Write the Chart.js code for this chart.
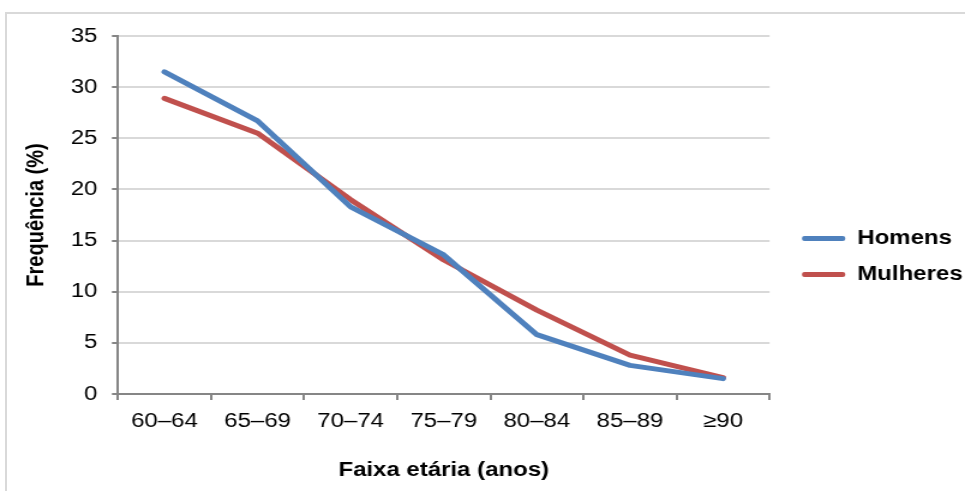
<!DOCTYPE html>
<html>
<head>
<meta charset="utf-8">
<script src="https://cdn.jsdelivr.net/npm/chart.js@4/dist/chart.umd.min.js"></script>
<style>
    html, body { margin: 0; padding: 0; background: #fff; overflow: hidden; }
    #frame {
        position: absolute; left: 5px; top: 12px; width: 980px; height: 500px;
        border-top: 2px solid #d9d9d9; border-left: 2px solid #d9d9d9;
    }
    #freqChart { position: absolute; left: 0; top: 0; }
</style>
</head>
<body>
<div id="frame"></div>
<!-- drawn at 804 wide and stretched to 965, like the original picture -->
<canvas id="freqChart" width="804" height="491" style="width:965px;height:491px"></canvas>
<script>
// age groups and frequency (%) per sex
const faixas = ['60–64', '65–69', '70–74', '75–79', '80–84', '85–89', '≥90'];
const homens = [31.5, 26.7, 18.3, 13.6, 5.8, 2.8, 1.5];
const mulheres = [28.9, 25.5, 19.0, 13.1, 8.2, 3.8, 1.6];
const yTicks = [0, 5, 10, 15, 20, 25, 30, 35];

const FONT = "'Liberation Sans', Arial, sans-serif";
const AXIS_GRAY = '#868686';
const GRID_GRAY = '#d9d9d9';

// nudge the legend box to where the original sits
const legendShift = {
    id: 'legendShift',
    afterLayout(chart) {
        const l = chart.legend;
        if (!l) return;
        const dx = 11, dy = -7;
        l.left += dx; l.right += dx;
        l.top += dy; l.bottom += dy;
    }
};

function drawChart() {
    const ctx = document.getElementById('freqChart').getContext('2d');
    new Chart(ctx, {
        type: 'line',
        data: {
            labels: faixas,
            datasets: [{
                label: 'Homens',
                data: homens,
                borderColor: '#4f81bd',
                backgroundColor: '#4f81bd',
                borderWidth: 5,
                pointRadius: 0,
                tension: 0,
                borderCapStyle: 'round',
                borderJoinStyle: 'round'
            }, {
                label: 'Mulheres',
                data: mulheres,
                borderColor: '#c0504d',
                backgroundColor: '#c0504d',
                borderWidth: 5,
                pointRadius: 0,
                tension: 0,
                borderCapStyle: 'round',
                borderJoinStyle: 'round'
            }]
        },
        options: {
            responsive: false,
            animation: false,
            devicePixelRatio: 1,
            layout: { padding: { left: 6, right: 3, top: 36, bottom: 0 } },
            plugins: {
                tooltip: { enabled: false },
                legend: {
                    position: 'right',
                    labels: {
                        boxWidth: 36,
                        boxHeight: 5,
                        padding: 16,
                        color: '#000',
                        font: { family: FONT, size: 20, weight: 'bold' },
                        generateLabels(chart) {
                            return Chart.defaults.plugins.legend.labels.generateLabels(chart)
                                .map(item => ({ ...item, lineWidth: 0, borderRadius: 2 }));
                        }
                    }
                }
            },
            scales: {
                x: {
                    offset: true,
                    grid: {
                        offset: true,
                        drawOnChartArea: false,
                        drawTicks: true,
                        tickLength: 6,
                        tickColor: AXIS_GRAY,
                        lineWidth: 2
                    },
                    border: { color: AXIS_GRAY, width: 2 },
                    ticks: {
                        color: '#000',
                        padding: 9,
                        maxRotation: 0,
                        autoSkip: false,
                        font: { family: FONT, size: 20 }
                    },
                    title: {
                        display: true,
                        text: 'Faixa etária (anos)',
                        color: '#000',
                        padding: { top: 16, bottom: 9 },
                        font: { family: FONT, size: 20, weight: 'bold' }
                    }
                },
                y: {
                    min: 0,
                    max: 35,
                    afterBuildTicks(scale) {
                        scale.ticks = yTicks.map(v => ({ value: v }));
                    },
                    grid: {
                        color: GRID_GRAY,
                        lineWidth: 2,
                        tickLength: 5,
                        tickColor: AXIS_GRAY
                    },
                    border: { color: AXIS_GRAY, width: 2 },
                    ticks: {
                        color: '#000',
                        padding: 12,
                        font: { family: FONT, size: 20 }
                    },
                    title: {
                        display: true,
                        text: 'Frequência (%)',
                        color: '#000',
                        padding: { top: 12, bottom: 5 },
                        font: { family: FONT, size: 20, weight: 'bold' }
                    }
                }
            }
        },
        plugins: [legendShift]
    });
}

document.addEventListener('DOMContentLoaded', () => {
    drawChart();
});
</script>
</body>
</html>
